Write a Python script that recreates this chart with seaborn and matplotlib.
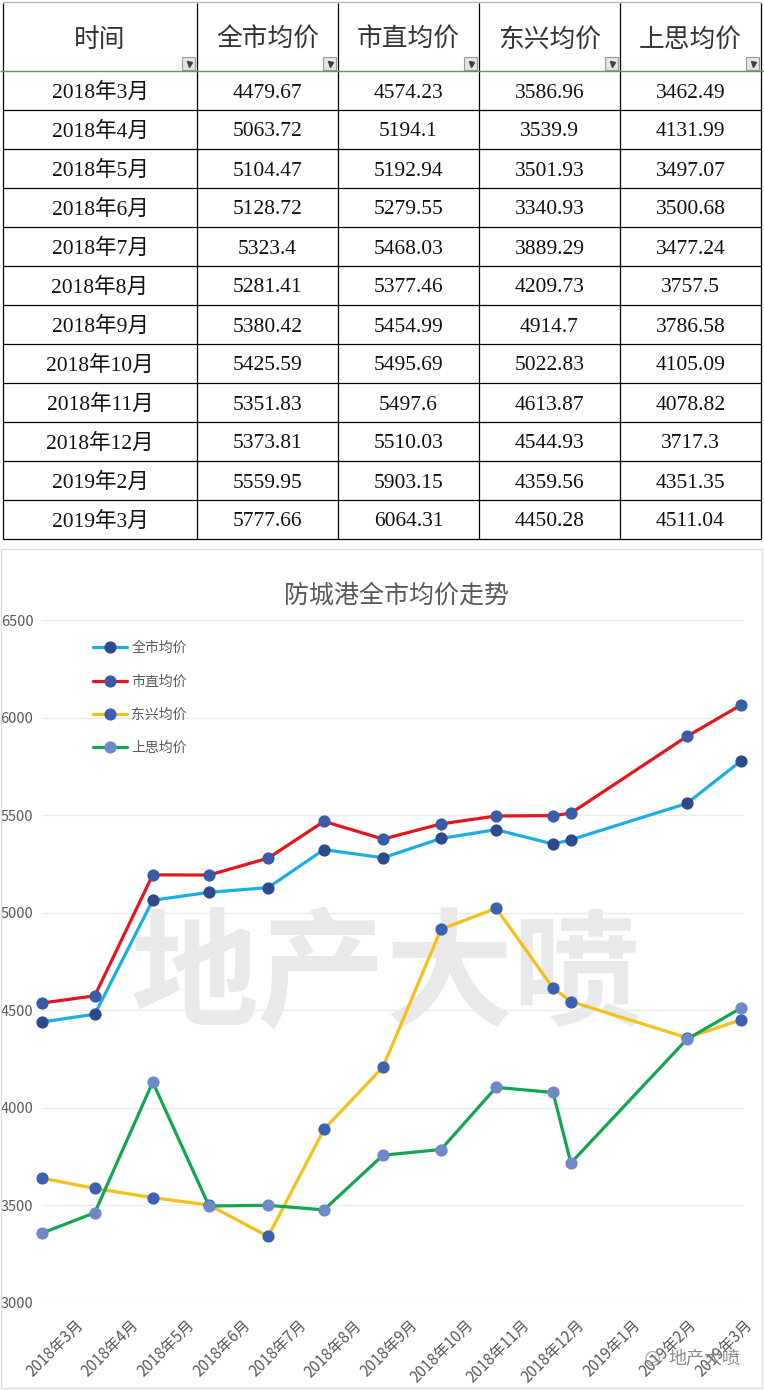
import matplotlib
matplotlib.use("Agg")
import matplotlib.pyplot as plt
from matplotlib.patches import Rectangle
import seaborn as sns

# ---------------- data ----------------
table_headers = ["时间", "全市均价", "市直均价", "东兴均价", "上思均价"]
table_months = ["2018年3月", "2018年4月", "2018年5月", "2018年6月", "2018年7月", "2018年8月",
                "2018年9月", "2018年10月", "2018年11月", "2018年12月", "2019年2月", "2019年3月"]
quanshi = [4479.67, 5063.72, 5104.47, 5128.72, 5323.4, 5281.41, 5380.42, 5425.59, 5351.83, 5373.81, 5559.95, 5777.66]
shizhi = [4574.23, 5194.1, 5192.94, 5279.55, 5468.03, 5377.46, 5454.99, 5495.69, 5497.6, 5510.03, 5903.15, 6064.31]
dongxing = [3586.96, 3539.9, 3501.93, 3340.93, 3889.29, 4209.73, 4914.7, 5022.83, 4613.87, 4544.93, 4359.56, 4450.28]
shangsi = [3462.49, 4131.99, 3497.07, 3500.68, 3477.24, 3757.5, 3786.58, 4105.09, 4078.82, 3717.3, 4351.35, 4511.04]

# chart: an extra leading point is drawn before the table values
chart_first_quanshi = 4440
chart_first_shizhi = 4537
chart_first_dongxing = 3640
chart_first_shangsi = 3358
chart_quanshi = [chart_first_quanshi] + quanshi
chart_shizhi = [chart_first_shizhi] + shizhi
chart_dongxing = [chart_first_dongxing] + dongxing
chart_shangsi = [chart_first_shangsi] + shangsi

# position of each chart point along the month axis
point_x = [-0.59, 0.36, 1.40, 2.41, 3.47, 4.47, 5.53, 6.57, 7.56, 8.58, 8.90, 10.98, 11.95]
axis_months = ["2018年3月", "2018年4月", "2018年5月", "2018年6月", "2018年7月", "2018年8月",
               "2018年9月", "2018年10月", "2018年11月", "2018年12月", "2019年1月", "2019年2月", "2019年3月"]
y_ticks = [3000, 3500, 4000, 4500, 5000, 5500, 6000, 6500]

series_names = ["全市均价", "市直均价", "东兴均价", "上思均价"]
line_colors = ["#1aaee6", "#e8141c", "#f5c01a", "#12a64f"]
marker_colors = ["#2c4a8c", "#3a5ca8", "#3b61b2", "#6f88c8"]

# ---------------- style ----------------
sns.set_theme(style="white")
plt.rcParams["font.family"] = ["Noto Sans CJK SC", "DejaVu Sans"]
plt.rcParams["axes.unicode_minus"] = False

W, H = 764, 1390
fig = plt.figure(figsize=(W / 100, H / 100), dpi=100)
fig.patch.set_facecolor("white")


def fx(px):
    return px / W


def fy(py):
    return 1 - py / H


# ---------------- table ----------------
TAB_H = 545
tab = fig.add_axes([0, fy(TAB_H), 1, TAB_H / H])
tab.set_xlim(0, W)
tab.set_ylim(TAB_H, 0)
tab.axis("off")

col_edges = [3, 197, 338, 479, 620, 761]
top_y = 3
head_bottom = 71
row_h = 39
n_rows = len(table_months)
bottom_y = head_bottom + row_h * n_rows

tab.hlines(top_y - 1, col_edges[0], col_edges[-1], color="#b5b5b5", lw=1)
tab.vlines(col_edges, top_y, bottom_y, color="black", lw=0.9)
tab.hlines(head_bottom, 0, W, color="#5e9a5e", lw=1)
for r in range(1, n_rows + 1):
    tab.hlines(head_bottom + r * row_h, col_edges[0], col_edges[-1], color="black", lw=0.9)

for c, name in enumerate(table_headers):
    c0, c1 = col_edges[c], col_edges[c + 1]
    tab.text((c0 + c1) / 2, 40, name, ha="center", va="center", fontsize=18.5, color="#333333")
    tab.add_patch(Rectangle((c1 - 15, 57), 13, 13, facecolor="#e4e4e4", edgecolor="#9a9a9a", lw=0.8))
    tab.plot([c1 - 8.5], [64], marker="v", ms=3.6, color="#404040")

cols = [table_months, quanshi, shizhi, dongxing, shangsi]
serif = ["Liberation Serif", "Noto Sans CJK SC"]
for r in range(n_rows):
    yc = head_bottom + r * row_h + row_h / 2 + 2.5
    for c, col in enumerate(cols):
        c0, c1 = col_edges[c], col_edges[c + 1]
        v = col[r]
        s = v if isinstance(v, str) else f"{v:.6g}"
        tab.text((c0 + c1) / 2, yc, s, ha="center", va="center", fontsize=15.5,
                 color="#111111", family=serif)

# ---------------- chart ----------------
fig.add_artist(Rectangle((fx(1), fy(1388)), fx(761), (1388 - 549) / H, transform=fig.transFigure,
                         facecolor="none", edgecolor="#dedede", lw=1))

x_left_px, x_right_px = 41.8, 743.7
ax = fig.add_axes([fx(x_left_px), fy(1303), (x_right_px - x_left_px) / W, (1303 - 620) / H])
ax.set_facecolor("none")

# big watermark
ax.text(fx(386), fy(978), "地产大喷", transform=fig.transFigure, ha="center", va="center",
        fontsize=92, fontweight="bold", color="#e9e9ec", zorder=0.5)

all_vals = [chart_quanshi, chart_shizhi, chart_dongxing, chart_shangsi]
for name, vals, lc, mc in zip(series_names, all_vals, line_colors, marker_colors):
    sns.lineplot(x=point_x, y=vals, ax=ax, color=lc, lw=2.3, marker="o", markersize=8.8,
                 markerfacecolor=mc, markeredgecolor=mc, markeredgewidth=0, label=name, zorder=3)
for ln in ax.lines:
    ln.set_clip_on(False)

ax.set_ylim(3000, 6500)
ax.set_xlim(-0.59, 12.0)
ax.set_yticks(y_ticks)
ax.set_yticklabels([str(t) for t in y_ticks])
ax.set_xticks(range(len(axis_months)))
ax.set_xticklabels(axis_months, rotation=45, ha="right", va="top", rotation_mode="anchor")
ax.tick_params(axis="x", length=0, pad=10, labelsize=11, labelcolor="#595959")
ax.tick_params(axis="y", length=0, pad=6, labelsize=10.5, labelcolor="#595959")
ax.yaxis.grid(True, color="#ececec", lw=1, zorder=0)
ax.xaxis.grid(False)
ax.set_axisbelow(True)
for sp in ax.spines.values():
    sp.set_visible(False)
ax.set_xlabel("")
ax.set_ylabel("")

leg = ax.legend(loc="upper left", bbox_to_anchor=(fx(93), fy(641)), bbox_transform=fig.transFigure,
                frameon=False, fontsize=10, handlelength=2.45, handletextpad=0.3, labelspacing=1.4,
                borderpad=0, borderaxespad=0)
for t in leg.get_texts():
    t.set_color("#595959")

fig.text(fx(396), fy(596), "防城港全市均价走势", ha="center", va="center", fontsize=18, color="#595959")

# small corner watermark
fig.text(fx(740), fy(1358), "地产大喷", ha="right", va="center", fontsize=13, color="#8a8a8a")
fig.text(fx(652), fy(1360), "☺", ha="center", va="center", fontsize=12, color="#9a9a9a",
         family=["DejaVu Sans"])

fig.savefig("out.png", dpi=100, facecolor="white")
